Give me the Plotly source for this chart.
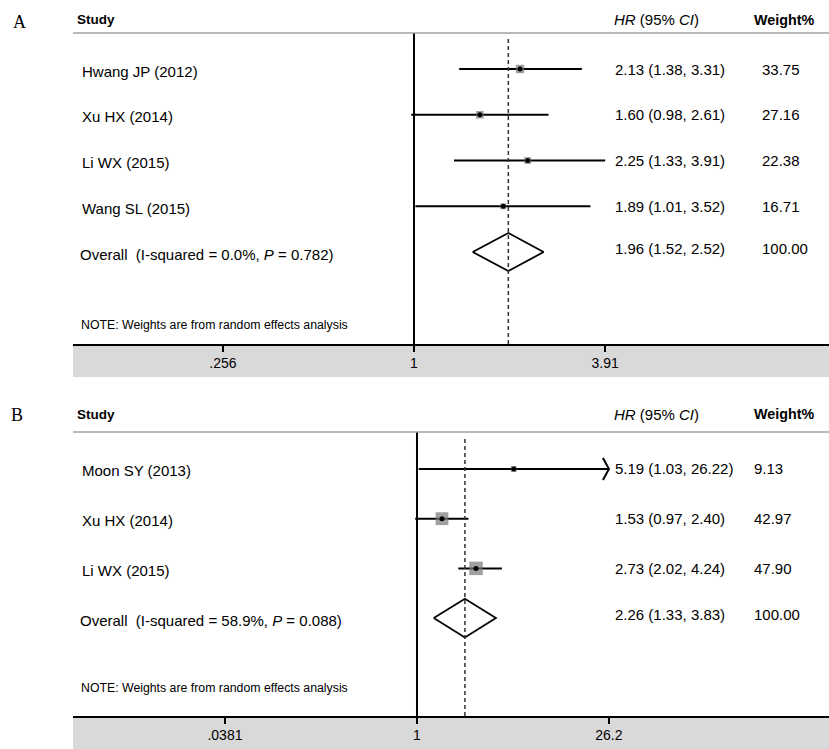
import math
import plotly.graph_objects as go

# ---------------- data ----------------
# Panel A
a_studies = ["Hwang JP (2012)", "Xu HX (2014)", "Li WX (2015)", "Wang SL (2015)"]
a_hr = [2.13, 1.60, 2.25, 1.89]
a_lo = [1.38, 0.98, 1.33, 1.01]
a_hi = [3.31, 2.61, 3.91, 3.52]
a_weight = [33.75, 27.16, 22.38, 16.71]
a_overall = [1.96, 1.52, 2.52]          # est, lo, hi
a_overall_label = "Overall&nbsp;&nbsp;(I-squared = 0.0%, <i>P</i> = 0.782)"
a_tickvals = [0.256, 1, 3.91]
a_ticktext = [".256", "1", "3.91"]

# Panel B
b_studies = ["Moon SY (2013)", "Xu HX (2014)", "Li WX (2015)"]
b_hr = [5.19, 1.53, 2.73]
b_lo = [1.03, 0.97, 2.02]
b_hi = [26.22, 2.40, 4.24]
b_weight = [9.13, 42.97, 47.90]
b_overall = [2.26, 1.33, 3.83]
b_overall_label = "Overall&nbsp;&nbsp;(I-squared = 58.9%, <i>P</i> = 0.088)"
b_tickvals = [0.0381, 1, 26.2]
b_ticktext = [".0381", "1", "26.2"]

note = "NOTE: Weights are from random effects analysis"

# ---------------- layout helpers ----------------
W, H = 829, 749
FONT = "Liberation Sans, Arial, sans-serif"


def px(x):
    return x / W


def py(y):
    return 1 - y / H


fig = go.Figure()
shapes = []
annotations = []

panels = [
    dict(key="", studies=a_studies, hr=a_hr, lo=a_lo, hi=a_hi, w=a_weight,
         overall=a_overall, olabel=a_overall_label, tv=a_tickvals, tt=a_ticktext,
         top=33, bottom=344, band=377, header_y=20, letter="A", letter_xy=(19, 22),
         xrange=[-1.0563, 1.2855], yrange=[7.01, 0.213], note_row=6.6,
         sq_k=1.45, dia_h=0.415, wcol=760, chev_dx=1.107, chev_dy=0.24),
    dict(key="2", studies=b_studies, hr=b_hr, lo=b_lo, hi=b_hi, w=b_weight,
         overall=b_overall, olabel=b_overall_label, tv=b_tickvals, tt=b_ticktext,
         top=432, bottom=716, band=749, header_y=414, letter="B", letter_xy=(17, 415),
         xrange=[-2.542, 3.0446], yrange=[5.97, 0.256], note_row=5.4,
         sq_k=1.95, dia_h=0.39, wcol=752, chev_dx=1.107, chev_dy=0.22),
]

layout_axes = {}
for p in panels:
    k = p["key"]
    xa = "x" + k
    ya = "y" + k
    n = len(p["studies"])
    rows = list(range(1, n + 1))
    orow = n + 1
    tmax = max(p["tv"])

    # CI lines (clipped at axis max tick with arrow)
    for i in range(n):
        hi_c = tmax if p["hi"][i] > tmax else p["hi"][i]
        fig.add_trace(go.Scatter(x=[p["lo"][i], hi_c], y=[rows[i], rows[i]], mode="lines",
                                 line=dict(color="black", width=2), xaxis=xa, yaxis=ya,
                                 showlegend=False, hoverinfo="skip"))
        if p["hi"][i] > tmax:
            fig.add_trace(go.Scatter(
                x=[hi_c / p["chev_dx"], hi_c, hi_c / p["chev_dx"]],
                y=[rows[i] - p["chev_dy"], rows[i], rows[i] + p["chev_dy"]],
                mode="lines", line=dict(color="black", width=2),
                xaxis=xa, yaxis=ya, showlegend=False, hoverinfo="skip"))

    # weight squares
    fig.add_trace(go.Scatter(x=p["hr"], y=rows, mode="markers",
                             marker=dict(symbol="square", color="#777777",
                                         size=[p["sq_k"] * math.sqrt(w) for w in p["w"]],
                                         line=dict(width=0)),
                             xaxis=xa, yaxis=ya, showlegend=False, hoverinfo="skip"))
    # point estimates
    fig.add_trace(go.Scatter(x=p["hr"], y=rows, mode="markers",
                             marker=dict(symbol="circle", color="black", size=5),
                             xaxis=xa, yaxis=ya, showlegend=False, hoverinfo="skip"))
    # overall diamond
    est, olo, ohi = p["overall"]
    dh = p["dia_h"]
    fig.add_trace(go.Scatter(x=[olo, est, ohi, est, olo],
                             y=[orow, orow - dh, orow, orow + dh, orow],
                             mode="lines", line=dict(color="black", width=1.8),
                             xaxis=xa, yaxis=ya, showlegend=False, hoverinfo="skip"))

    # null line and overall dashed line
    shapes.append(dict(type="line", xref=xa, yref=ya + " domain", x0=1, x1=1, y0=0, y1=1,
                       line=dict(color="black", width=2)))
    shapes.append(dict(type="line", xref=xa, yref=ya + " domain", x0=est, x1=est, y0=0, y1=0.985,
                       line=dict(color="#333333", width=1.5, dash="4px,3px")))
    # header rule
    shapes.append(dict(type="line", xref="paper", yref="paper", x0=px(73), x1=1,
                       y0=py(p["top"]), y1=py(p["top"]),
                       line=dict(color="#a0a0a0", width=1.5)))
    # grey axis band
    shapes.append(dict(type="rect", xref="paper", yref="paper", x0=px(73), x1=1,
                       y0=py(p["band"]), y1=py(p["bottom"]),
                       fillcolor="#d9d9d9", line=dict(width=0), layer="below"))

    # headers
    hy = py(p["header_y"])
    annotations += [
        dict(text=p["letter"], x=px(p["letter_xy"][0]), y=py(p["letter_xy"][1]),
             xref="paper", yref="paper", xanchor="center", yanchor="middle", showarrow=False,
             font=dict(family="Liberation Serif, Times New Roman, serif", size=18, color="black")),
        dict(text="<b>Study</b>", x=px(75), y=hy, xref="paper", yref="paper",
             xanchor="left", yanchor="middle", showarrow=False,
             font=dict(family=FONT, size=13.5, color="black")),
        dict(text="<i>HR</i> (95% <i>CI</i>)", x=px(612), y=hy, xref="paper", yref="paper",
             xanchor="left", yanchor="middle", showarrow=False,
             font=dict(family=FONT, size=15, color="black")),
        dict(text="<b>Weight%</b>", x=px(752), y=hy, xref="paper", yref="paper",
             xanchor="left", yanchor="middle", showarrow=False,
             font=dict(family=FONT, size=14.3, color="black")),
    ]
    # row labels and numbers
    for i in range(n):
        annotations += [
            dict(text=p["studies"][i], x=px(80), y=rows[i], xref="paper", yref=ya,
                 xanchor="left", yanchor="middle", showarrow=False, yshift=-2,
                 font=dict(family=FONT, size=15, color="black")),
            dict(text=f"{p['hr'][i]:.2f} ({p['lo'][i]:.2f}, {p['hi'][i]:.2f})", x=px(613),
                 y=rows[i], xref="paper", yref=ya, xanchor="left", yanchor="middle",
                 showarrow=False, font=dict(family=FONT, size=15, color="black")),
            dict(text=f"{p['w'][i]:.2f}", x=px(p["wcol"]), y=rows[i], xref="paper", yref=ya,
                 xanchor="left", yanchor="middle", showarrow=False,
                 font=dict(family=FONT, size=15, color="black")),
        ]
    annotations += [
        dict(text=p["olabel"], x=px(78), y=orow, xref="paper", yref=ya, xanchor="left",
             yanchor="middle", showarrow=False, yshift=-2,
             font=dict(family=FONT, size=15, color="black")),
        dict(text=f"{est:.2f} ({olo:.2f}, {ohi:.2f})", x=px(613), y=orow, xref="paper", yref=ya,
             xanchor="left", yanchor="middle", showarrow=False, yshift=4,
             font=dict(family=FONT, size=15, color="black")),
        dict(text=f"{sum(p['w']):.2f}", x=px(p["wcol"]), y=orow, xref="paper", yref=ya,
             xanchor="left", yanchor="middle", showarrow=False, yshift=4,
             font=dict(family=FONT, size=15, color="black")),
        dict(text=note, x=px(79), y=p["note_row"], xref="paper", yref=ya, xanchor="left",
             yanchor="middle", showarrow=False,
             font=dict(family=FONT, size=12.3, color="black")),
    ]

    layout_axes["xaxis" + k] = dict(
        type="log", domain=[px(73), 1], range=p["xrange"], anchor=ya,
        showgrid=False, zeroline=False, showline=True, linecolor="black", linewidth=2,
        ticks="outside", ticklen=6, tickwidth=1.5, tickcolor="black",
        tickvals=p["tv"], ticktext=p["tt"], ticklabelstandoff=-1,
        tickfont=dict(family=FONT, size=14, color="black"), fixedrange=True)
    layout_axes["yaxis" + k] = dict(
        domain=[py(p["bottom"]), py(p["top"])], range=p["yrange"], anchor=xa,
        visible=False, showgrid=False, zeroline=False, fixedrange=True)

fig.update_layout(
    width=W, height=H, margin=dict(l=0, r=0, t=0, b=0),
    paper_bgcolor="white", plot_bgcolor="white",
    shapes=shapes, annotations=annotations, showlegend=False,
    **layout_axes)

fig.write_html("out.html", config={"displayModeBar": False},
               post_script="document.body.style.margin='0';document.body.style.padding='0';")
